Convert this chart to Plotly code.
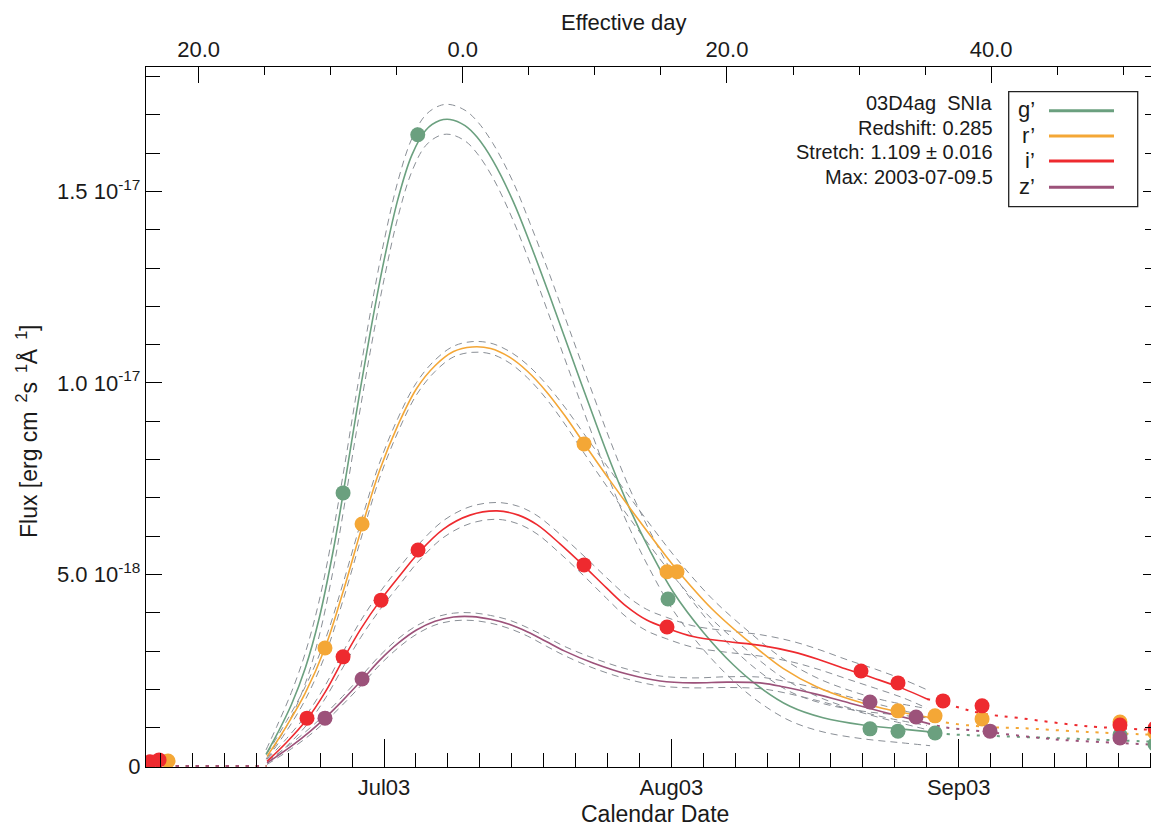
import plotly.graph_objects as go

# ---------------- data (time: days since 2003-07-01, flux in 1e-18 erg/cm2/s/A) --------------
STRETCH = 1.109
REDSHIFT = 0.285
T_MAX = 8.5  # 2003-07-09.5

# model curves (solid) + 1-sigma envelope half-widths
g_t = [-12.73, -11.5, -10.0, -8.5, -7.0, -5.5, -4.42, -3.0, -1.5, 0.0, 1.5, 3.0, 4.5, 6.0, 7.12,
       8.74, 10.03, 11.76, 13.92, 15.75, 17.91, 20.07, 22.55, 24.49, 26.54, 28.70, 31.18, 34.42,
       37.65, 40.57, 43.80, 47.36, 51.68, 55.67, 58.91]
g_f = [0.30, 0.85, 1.60, 2.55, 3.85, 5.60, 7.10, 9.20, 11.30, 13.20, 14.80, 15.95, 16.60, 16.85,
       16.88, 16.72, 16.42, 15.80, 14.75, 13.65, 12.25, 10.80, 9.15, 7.90, 6.70, 5.62, 4.55, 3.50,
       2.65, 2.05, 1.56, 1.26, 1.07, 0.97, 0.89]
g_sig = [0.12, 0.22, 0.32, 0.40, 0.46, 0.50, 0.50, 0.50, 0.50, 0.50, 0.47, 0.43, 0.40, 0.39, 0.39,
         0.40, 0.42, 0.45, 0.50, 0.52, 0.55, 0.55, 0.55, 0.54, 0.52, 0.50, 0.48, 0.45, 0.42, 0.40,
         0.38, 0.37, 0.36, 0.36, 0.36]

r_t = [-12.62, -10.5, -8.5, -6.37, -4.42, -2.37, -0.5, 1.5, 3.5, 5.5, 7.5, 9.5, 11.5, 13.5, 15.5,
       17.5, 19.5, 21.58, 24.39, 27.30, 30.10, 31.61, 35.39, 39.49, 43.05, 46.72, 50.27, 53.84, 58.58]
r_f = [0.25, 1.05, 1.90, 3.08, 4.55, 6.25, 7.70, 8.90, 9.85, 10.45, 10.82, 10.94, 10.90, 10.68,
       10.30, 9.78, 9.15, 8.42, 7.45, 6.48, 5.58, 5.12, 4.10, 3.22, 2.55, 2.06, 1.74, 1.50, 1.28]
r_sig = [0.07, 0.13, 0.17, 0.20, 0.22, 0.22, 0.20, 0.18, 0.16, 0.15, 0.14, 0.14, 0.14, 0.15, 0.17,
         0.19, 0.22, 0.25, 0.27, 0.28, 0.28, 0.28, 0.27, 0.26, 0.25, 0.24, 0.23, 0.22, 0.22]

i_t = [-12.62, -10.5, -8.31, -6.3, -4.42, -2.5, -0.32, 1.73, 3.67, 6.37, 9.28, 12.19, 14.5, 16.5,
       18.99, 21.58, 24.0, 26.19, 28.34, 30.50, 33.34, 36.97, 40.57, 44.13, 47.04, 50.0, 53.0, 56.0,
       58.58]
i_f = [0.12, 0.62, 1.22, 1.95, 2.78, 3.58, 4.35, 4.98, 5.55, 6.18, 6.55, 6.66, 6.55, 6.30, 5.80,
       5.22, 4.65, 4.16, 3.81, 3.60, 3.38, 3.25, 3.15, 2.98, 2.77, 2.52, 2.28, 2.02, 1.75]
i_sig = [0.05, 0.10, 0.14, 0.17, 0.20, 0.22, 0.23, 0.23, 0.22, 0.22, 0.22, 0.22, 0.23, 0.24, 0.25,
         0.26, 0.27, 0.28, 0.28, 0.28, 0.28, 0.28, 0.28, 0.27, 0.26, 0.25, 0.25, 0.24, 0.24]

z_t = [-12.62, -10.0, -8.0, -6.37, -4.5, -2.37, -0.5, 1.5, 3.5, 5.5, 7.5, 9.5, 11.5, 13.5, 15.5,
       17.5, 19.5, 22.55, 26.22, 29.78, 33.34, 37.0, 40.57, 43.05, 46.72, 50.27, 53.84, 58.58]
z_f = [0.08, 0.52, 0.90, 1.25, 1.70, 2.25, 2.75, 3.20, 3.55, 3.78, 3.89, 3.90, 3.83, 3.70, 3.50,
       3.25, 3.00, 2.69, 2.40, 2.22, 2.17, 2.19, 2.17, 2.07, 1.87, 1.64, 1.41, 1.12]
z_sig = [0.04, 0.07, 0.09, 0.10, 0.11, 0.12, 0.12, 0.12, 0.11, 0.10, 0.10, 0.10, 0.10, 0.11, 0.11,
         0.12, 0.12, 0.13, 0.13, 0.13, 0.13, 0.14, 0.15, 0.15, 0.16, 0.16, 0.17, 0.17]

# extrapolations (dotted)
pre_t = [-25.7, -12.7]
pre_f = [0.0, 0.0]
g_ext_t = [58.58, 60.31, 68.62, 75.84, 83.50]
g_ext_f = [0.89, 0.84, 0.76, 0.70, 0.63]
r_ext_t = [58.58, 60.31, 65.05, 68.62, 75.84, 83.50]
r_ext_f = [1.28, 1.15, 1.02, 0.99, 0.89, 0.81]
i_ext_t = [58.58, 61.39, 64.30, 68.62, 75.84, 83.50]
i_ext_f = [1.75, 1.57, 1.38, 1.25, 1.04, 0.94]
z_ext_t = [58.58, 60.31, 65.05, 72.18, 79.40, 83.50]
z_ext_f = [1.12, 1.02, 0.89, 0.70, 0.60, 0.55]

# measurements
g_obs_t = [-4.42, 3.64, 30.64, 52.43, 55.45, 59.45, 79.40, 83.18]
g_obs_f = [7.13, 16.48, 4.36, 0.97, 0.91, 0.86, 0.81, 0.57]
r_obs_t = [-23.30, -6.37, -2.37, 21.58, 30.53, 31.61, 55.45, 59.45, 64.52, 79.40, 83.18]
r_obs_f = [0.13, 3.08, 6.32, 8.41, 5.07, 5.07, 1.44, 1.31, 1.23, 1.15, 0.86]
i_obs_t = [-25.25, -24.27, -8.31, -4.42, -0.32, 3.67, 21.58, 30.53, 51.46, 55.45, 60.31, 64.52, 79.40, 83.18]
i_obs_f = [0.11, 0.16, 1.25, 2.85, 4.33, 5.64, 5.25, 3.63, 2.48, 2.17, 1.70, 1.57, 1.07, 0.99]
z_obs_t = [-6.37, -2.37, 52.43, 57.40, 65.38, 79.40]
z_obs_f = [1.25, 2.27, 1.67, 1.28, 0.91, 0.73]

bands = ["g’", "r’", "i’", "z’"]
colors = ["#6BA07F", "#F4A736", "#EE2A2F", "#9C527A"]

date_ticks = [0, 31, 62]
date_labels = ["Jul03", "Aug03", "Sep03"]
eff_ticks = [-20, 0, 20, 40]
eff_labels = ["20.0", "0.0", "20.0", "40.0"]
flux_ticks = [0, 5, 10, 15]
flux_labels = ["0", "5.0 10<sup>-18</sup>", "1.0 10<sup>-17</sup>", "1.5 10<sup>-17</sup>"]

info_lines = ["03D4ag  SNIa", "Redshift: 0.285", "Stretch: 1.109 ± 0.016", "Max: 2003-07-09.5"]

# ---------------- figure ----------------
FONT = "Liberation Sans, Arial, Helvetica, sans-serif"
T_RANGE = [-25.68, 83.61]
F_RANGE = [-0.026, 18.25]
scale = (1 + REDSHIFT) * STRETCH
EFF_RANGE = [(T_RANGE[0] - T_MAX) / scale, (T_RANGE[1] - T_MAX) / scale]

fig = go.Figure()

models = [(g_t, g_f, g_sig, g_ext_t, g_ext_f, g_obs_t, g_obs_f),
          (r_t, r_f, r_sig, r_ext_t, r_ext_f, r_obs_t, r_obs_f),
          (i_t, i_f, i_sig, i_ext_t, i_ext_f, i_obs_t, i_obs_f),
          (z_t, z_f, z_sig, z_ext_t, z_ext_f, z_obs_t, z_obs_f)]

SMOOTH = 1.0

# envelopes
for (t, f, s, *_rest) in models:
    up = [a + b for a, b in zip(f, s)]
    lo = [a - b for a, b in zip(f, s)]
    for env in (up, lo):
        fig.add_trace(go.Scatter(x=t, y=env, mode="lines", showlegend=False, hoverinfo="skip",
                                 line=dict(color="#8A8F96", width=1, dash="7px,5px", shape="spline",
                                           smoothing=SMOOTH)))

# pre-explosion and tail extrapolations
for (t, f, s, et, ef, ot, of), c in zip(models, colors):
    fig.add_trace(go.Scatter(x=pre_t, y=pre_f, mode="lines", showlegend=False, hoverinfo="skip",
                             line=dict(color=c, width=2, dash="3px,7px")))
    fig.add_trace(go.Scatter(x=et, y=ef, mode="lines", showlegend=False, hoverinfo="skip",
                             line=dict(color=c, width=2, dash="3px,7px", shape="spline")))

# model curves
for (t, f, s, et, ef, ot, of), c, b in zip(models, colors, bands):
    fig.add_trace(go.Scatter(x=t, y=f, mode="lines", name=b, showlegend=False,
                             line=dict(color=c, width=1.6, shape="spline", smoothing=SMOOTH)))

# observations
for (t, f, s, et, ef, ot, of), c, b in zip(models, colors, bands):
    fig.add_trace(go.Scatter(x=ot, y=of, mode="markers", name=b, showlegend=False,
                             marker=dict(color=c, size=15, line=dict(width=0))))

# dummy trace to activate the top (effective day) axis
fig.add_trace(go.Scatter(x=[0], y=[None], xaxis="x2", mode="markers", showlegend=False,
                         hoverinfo="skip", marker=dict(opacity=0)))

TICKFONT = dict(family=FONT, size=22, color="#1a1a1a")
axis_common = dict(showgrid=False, zeroline=False, showline=True, linecolor="black", linewidth=1.3,
                   ticks="inside", tickcolor="black", tickwidth=1.1, tickfont=TICKFONT)

# page body has an 8px margin: plot area lands at x 146..1159, y 67..767 of the window
fig.update_layout(
    width=1151, height=825,
    margin=dict(l=138, r=0, t=59, b=66),
    paper_bgcolor="white", plot_bgcolor="white",
    font=dict(family=FONT, color="#1a1a1a"),
    xaxis=dict(range=T_RANGE, tickmode="array", tickvals=date_ticks, ticktext=date_labels,
               ticklen=28, minor=dict(dtick=31 / 9, tick0=0, ticks="inside", ticklen=14,
                                      tickcolor="black", tickwidth=1.1),
               **axis_common),
    xaxis2=dict(range=EFF_RANGE, overlaying="x", side="top", tickmode="array", tickvals=eff_ticks,
                ticktext=eff_labels, ticklen=16,
                minor=dict(dtick=5, tick0=0, ticks="inside", ticklen=8, tickcolor="black",
                           tickwidth=1.1),
                **axis_common),
    yaxis=dict(range=F_RANGE, tickmode="array", tickvals=flux_ticks, ticktext=flux_labels,
               ticklen=16, mirror="ticks",
               minor=dict(dtick=1, tick0=0, ticks="inside", ticklen=14, tickcolor="black",
                          tickwidth=1.1),
               **axis_common),
)

# plot-area pixel helpers (window pixels) for annotations / legend box
PL, PW, PT, PH = 146, 1013, 67, 700
px = lambda x: (x - PL) / PW
py = lambda y: (PT + PH - y) / PH

ann = []
ann.append(dict(text="Effective day", x=px(624), y=py(8), xref="paper", yref="paper",
                showarrow=False, font=dict(size=22, family=FONT), xanchor="center", yanchor="top"))
ann.append(dict(text="Calendar Date", x=px(655), y=py(814), xref="paper", yref="paper",
                showarrow=False, font=dict(size=23, family=FONT), xanchor="center", yanchor="middle"))
NB = "\u00a0"
ann.append(dict(text=f"Flux [erg cm<sup>{NB}{NB}2</sup>s<sup>{NB}{NB}1</sup>Å<sup>{NB}{NB}1</sup>]",
                x=px(27), y=py(432), xref="paper", yref="paper", showarrow=False, textangle=-90,
                font=dict(size=23, family=FONT), xanchor="center", yanchor="middle"))
for k, line in enumerate(info_lines):
    ann.append(dict(text=line, x=px(995), y=py(103.3 + 24.6 * k), xref="paper", yref="paper",
                    showarrow=False, font=dict(size=20, family=FONT), xanchor="right",
                    yanchor="middle"))

shapes = [dict(type="rect", xref="paper", yref="paper", x0=px(1008.7), x1=px(1137.7),
               y0=py(206.7), y1=py(91.7), line=dict(color="#222", width=1.3), fillcolor="white",
               layer="above")]
leg_y = [110.7, 136, 161, 187.3]
for b, c, yy in zip(bands, colors, leg_y):
    shapes.append(dict(type="line", xref="paper", yref="paper", x0=px(1049), x1=px(1114),
                       y0=py(yy), y1=py(yy), line=dict(color=c, width=3), layer="above"))
    ann.append(dict(text=b, x=px(1037), y=py(yy - 1), xref="paper", yref="paper", showarrow=False,
                    font=dict(size=22, family=FONT), xanchor="right", yanchor="middle"))

fig.update_layout(annotations=ann, shapes=shapes)

fig.write_html("out.html")
